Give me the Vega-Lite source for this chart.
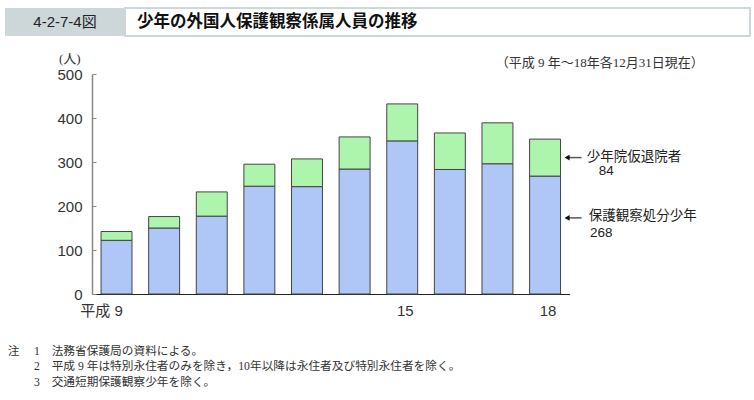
{
  "$schema": "https://vega.github.io/schema/vega-lite/v6.json",
  "padding": {"left": 5, "top": 7, "right": 0, "bottom": 0},
  "bounds": "flush",
  "spacing": 66,
  "config": {"view": {"stroke": null}, "font": "Liberation Sans, Noto Sans CJK JP"},
  "vconcat": [
    {
      "hconcat": [
        {
          "width": 120,
          "height": 28,
          "view": {"fill": "#cdd6d8", "stroke": null},
          "data": {"values": [{"label": "4-2-7-4図"}]},
          "mark": {"type": "text", "font": "Liberation Sans, Noto Sans CJK JP", "fontSize": 15, "color": "#222"},
          "encoding": {"text": {"field": "label"}}
        },
        {
          "width": 625,
          "height": 28,
          "view": {"fill": "white", "stroke": "#cdd6d8", "strokeWidth": 2},
          "data": {"values": [{"title": "少年の外国人保護観察係属人員の推移"}]},
          "mark": {"type": "text", "align": "left", "dx": 12, "font": "Noto Sans CJK JP", "fontSize": 16.5, "fontWeight": "bold", "color": "#111"},
          "encoding": {
            "text": {"field": "title"},
            "x": {"datum": 0, "type": "quantitative", "scale": {"domain": [0, 1]}, "axis": null}
          }
        }
      ],
      "spacing": 0,
      "bounds": "flush"
    },
    {
      "hconcat": [
        {
          "width": 86.7,
          "height": 220,
          "data": {"values": []},
          "mark": "text",
          "encoding": {}
        },
        {
          "width": 477.6,
          "height": 220,
          "data": {
            "values": [
              {"year": 9, "series": "保護観察処分少年", "count": 122},
              {"year": 9, "series": "少年院仮退院者", "count": 20},
              {"year": 10, "series": "保護観察処分少年", "count": 150},
              {"year": 10, "series": "少年院仮退院者", "count": 26},
              {"year": 11, "series": "保護観察処分少年", "count": 177},
              {"year": 11, "series": "少年院仮退院者", "count": 55},
              {"year": 12, "series": "保護観察処分少年", "count": 245},
              {"year": 12, "series": "少年院仮退院者", "count": 50},
              {"year": 13, "series": "保護観察処分少年", "count": 244},
              {"year": 13, "series": "少年院仮退院者", "count": 63},
              {"year": 14, "series": "保護観察処分少年", "count": 284},
              {"year": 14, "series": "少年院仮退院者", "count": 73},
              {"year": 15, "series": "保護観察処分少年", "count": 348},
              {"year": 15, "series": "少年院仮退院者", "count": 84},
              {"year": 16, "series": "保護観察処分少年", "count": 283},
              {"year": 16, "series": "少年院仮退院者", "count": 83},
              {"year": 17, "series": "保護観察処分少年", "count": 296},
              {"year": 17, "series": "少年院仮退院者", "count": 93},
              {"year": 18, "series": "保護観察処分少年", "count": 268},
              {"year": 18, "series": "少年院仮退院者", "count": 84}
            ]
          },
          "layer": [
            {
              "mark": {"type": "bar", "stroke": "#444", "strokeWidth": 1},
              "encoding": {
                "x": {
                  "field": "year",
                  "type": "ordinal",
                  "scale": {"paddingInner": 0.35, "paddingOuter": 0.19},
                  "axis": {
                    "orient": "bottom",
                    "labelExpr": "datum.value == 9 ? '平成 9' : ((datum.value == 15 || datum.value == 18) ? datum.label : '')",
                    "labelAngle": 0,
                    "ticks": false,
                    "domainColor": "#222",
                    "domainWidth": 1,
                    "labelPadding": 9,
                    "labelFont": "Liberation Sans, Noto Sans CJK JP",
                    "labelFontSize": 15,
                    "labelColor": "#333",
                    "labelOffset": {"condition": {"test": "datum.value == 9", "value": -15}, "value": 3},
                    "title": [
                      "\u200b注　 1　法務省保護局の資料による。",
                      "\u200b　　 2　平成 9 年は特別永住者のみを除き，10年以降は永住者及び特別永住者を除く。",
                      "\u200b　　 3　交通短期保護観察少年を除く。"
                    ],
                    "titleX": -84.7,
                    "titleY": 51,
                    "titleAlign": "left",
                    "titleBaseline": "top",
                    "titleFont": "Liberation Serif, Noto Sans CJK JP",
                    "titleFontSize": 11.7,
                    "titleFontWeight": "normal",
                    "titleColor": "#333",
                    "titleLineHeight": 15.8,
                    "titleLimit": 1000
                  }
                },
                "y": {
                  "field": "count",
                  "type": "quantitative",
                  "stack": "zero",
                  "scale": {"domain": [0, 500], "nice": false},
                  "axis": {
                    "values": [0, 100, 200, 300, 400, 500],
                    "grid": false,
                    "domainColor": "#888",
                    "domainWidth": 1.5,
                    "tickColor": "#888",
                    "tickSize": -4,
                    "labelPadding": 14,
                    "labelFont": "Liberation Sans, Noto Sans CJK JP",
                    "labelFontSize": 15,
                    "labelColor": "#333",
                    "title": "(人)",
                    "titleAngle": 0,
                    "titleX": -22.7,
                    "titleY": -15.7,
                    "titleAlign": "center",
                    "titleBaseline": "middle",
                    "titleFont": "Liberation Serif, Noto Sans CJK JP",
                    "titleFontSize": 13,
                    "titleFontWeight": "normal",
                    "titleColor": "#333"
                  }
                },
                "color": {
                  "field": "series",
                  "type": "nominal",
                  "scale": {"domain": ["保護観察処分少年", "少年院仮退院者"], "range": ["#aec7f7", "#adf5ad"]},
                  "legend": null
                },
                "order": {"field": "series", "sort": "ascending"}
              }
            },
            {
              "transform": [{"filter": "datum.year == 18 && datum.series == '少年院仮退院者'"}],
              "mark": {"type": "tick", "orient": "horizontal", "size": 15, "thickness": 1.5, "color": "#111", "xOffset": 29},
              "encoding": {
                "x": {
                  "field": "year",
                  "type": "ordinal",
                  "axis": {
                    "orient": "top",
                    "domain": false,
                    "ticks": false,
                    "labels": false,
                    "title": "（平成 9 年～18年各12月31日現在）",
                    "titleX": 611.3,
                    "titleY": -12,
                    "titleAlign": "right",
                    "titleBaseline": "middle",
                    "titleFont": "Liberation Serif, Noto Sans CJK JP",
                    "titleFontSize": 13,
                    "titleFontWeight": "normal",
                    "titleColor": "#333",
                    "titleLimit": 1000
                  }
                },
                "y": {"datum": 310, "type": "quantitative"}
              }
            },
            {
              "transform": [{"filter": "datum.year == 18 && datum.series == '少年院仮退院者'"}],
              "mark": {"type": "point", "shape": "triangle-left", "filled": true, "size": 35, "color": "#111", "opacity": 1, "xOffset": 22},
              "encoding": {"x": {"field": "year", "type": "ordinal", "axis": null}, "y": {"datum": 310, "type": "quantitative"}}
            },
            {
              "transform": [{"filter": "datum.year == 18 && datum.series == '保護観察処分少年'"}],
              "mark": {"type": "tick", "orient": "horizontal", "size": 15, "thickness": 1.5, "color": "#111", "xOffset": 29},
              "encoding": {"x": {"field": "year", "type": "ordinal", "axis": null}, "y": {"datum": 173, "type": "quantitative"}}
            },
            {
              "transform": [{"filter": "datum.year == 18 && datum.series == '保護観察処分少年'"}],
              "mark": {"type": "point", "shape": "triangle-left", "filled": true, "size": 35, "color": "#111", "opacity": 1, "xOffset": 22},
              "encoding": {"x": {"field": "year", "type": "ordinal", "axis": null}, "y": {"datum": 173, "type": "quantitative"}}
            },
            {
              "transform": [{"filter": "datum.year == 18 && datum.series == '少年院仮退院者'"}],
              "mark": {"type": "text", "align": "left", "dx": 41.7, "font": "Liberation Sans, Noto Sans CJK JP", "fontSize": 13.5, "color": "#222"},
              "encoding": {"x": {"field": "year", "type": "ordinal", "axis": null}, "y": {"datum": 312, "type": "quantitative"}, "text": {"field": "series"}}
            },
            {
              "transform": [{"filter": "datum.year == 18 && datum.series == '少年院仮退院者'"}],
              "mark": {"type": "text", "align": "left", "dx": 53.7, "font": "Liberation Sans, Noto Sans CJK JP", "fontSize": 13.5, "color": "#222"},
              "encoding": {"x": {"field": "year", "type": "ordinal", "axis": null}, "y": {"datum": 280, "type": "quantitative"}, "text": {"field": "count"}}
            },
            {
              "transform": [{"filter": "datum.year == 18 && datum.series == '保護観察処分少年'"}],
              "mark": {"type": "text", "align": "left", "dx": 43.7, "font": "Liberation Sans, Noto Sans CJK JP", "fontSize": 13.5, "color": "#222"},
              "encoding": {"x": {"field": "year", "type": "ordinal", "axis": null}, "y": {"datum": 177, "type": "quantitative"}, "text": {"field": "series"}}
            },
            {
              "transform": [{"filter": "datum.year == 18 && datum.series == '保護観察処分少年'"}],
              "mark": {"type": "text", "align": "left", "dx": 45, "font": "Liberation Sans, Noto Sans CJK JP", "fontSize": 13.5, "color": "#222"},
              "encoding": {"x": {"field": "year", "type": "ordinal", "axis": null}, "y": {"datum": 139, "type": "quantitative"}, "text": {"field": "count"}}
            }
          ]
        }
      ],
      "spacing": 0,
      "bounds": "flush"
    }
  ]
}
